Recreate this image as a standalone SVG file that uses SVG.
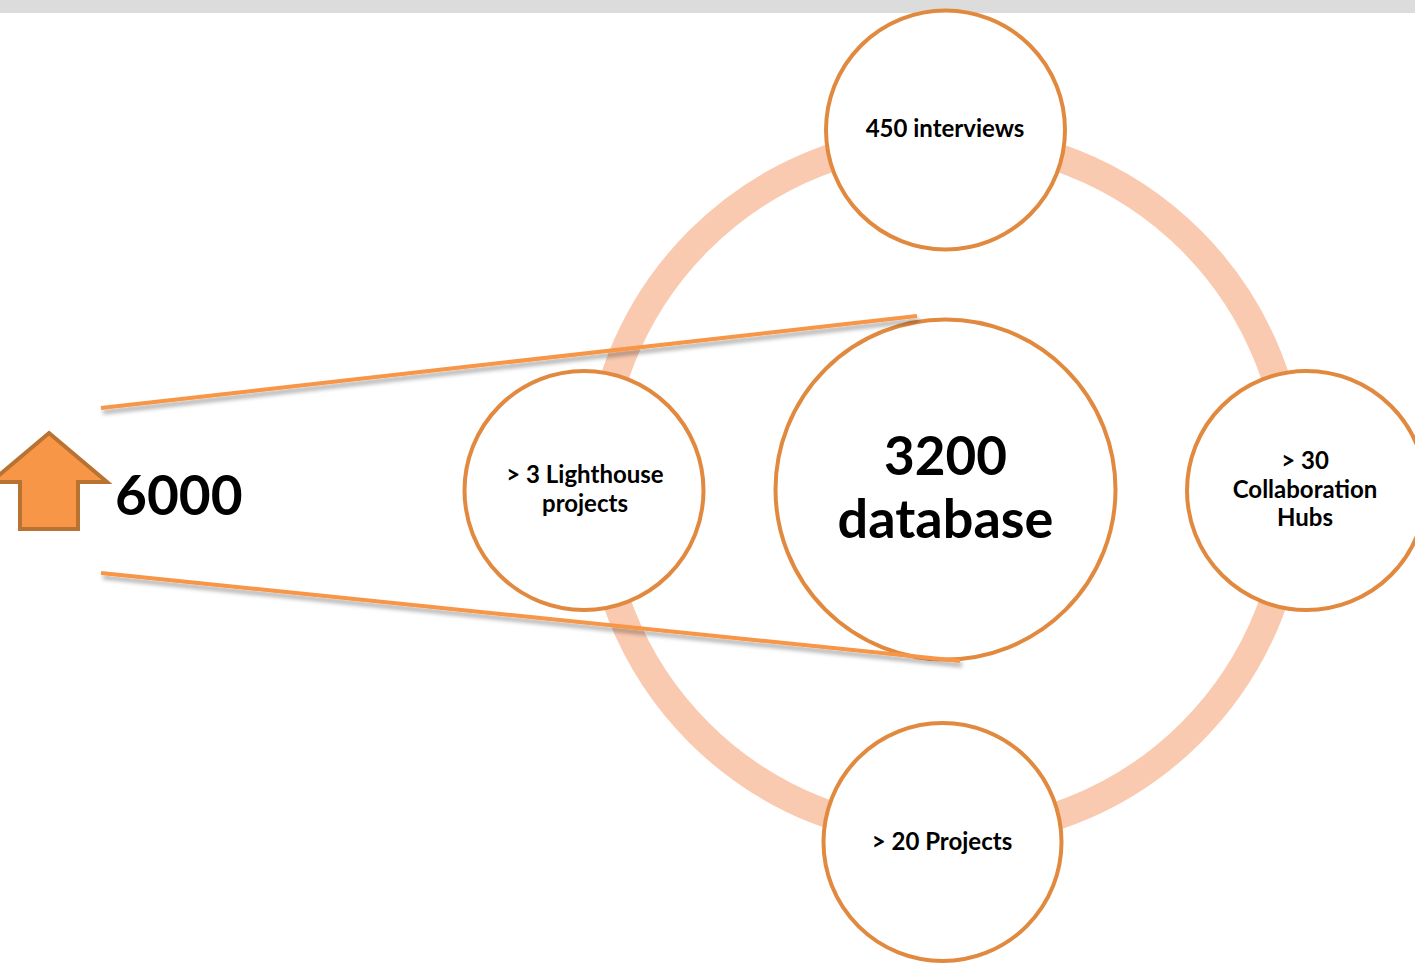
<svg xmlns="http://www.w3.org/2000/svg" width="1415" height="964" viewBox="0 0 1415 964">
  <defs>
    <filter id="shadow" x="-5%" y="-50%" width="110%" height="200%">
      <feDropShadow dx="2" dy="4" stdDeviation="2" flood-color="#000" flood-opacity="0.35"/>
    </filter>
    <style>
      .node { fill: #FFFFFF; stroke: #E18A3F; stroke-width: 4; }
      .lbl { font-family: Lato, "Open Sans", "Liberation Sans", sans-serif; font-weight: bold; fill: #000; text-anchor: middle; }
      .sm { font-size: 24px; }
      .big { font-size: 54px; }
      .conn { stroke: #F79646; stroke-width: 4; fill: none; filter: url(#shadow); }
    </style>
  </defs>
  <rect x="0" y="0" width="1415" height="13" fill="#DCDCDC"/>
  <g id="ring">
    <circle cx="945" cy="486.5" r="348" fill="none" stroke="#F9CAB0" stroke-width="28"/>
  </g>
  <g id="node-interviews">
    <circle class="node" cx="945.5" cy="130" r="119.5"/>
    <text class="lbl sm" x="945" y="137">450 interviews</text>
  </g>
  <g id="node-lighthouse">
    <circle class="node" cx="584" cy="490.5" r="119.5"/>
    <text class="lbl sm" x="585" y="483">&gt; 3 Lighthouse</text>
    <text class="lbl sm" x="585" y="511.5">projects</text>
  </g>
  <g id="node-hubs">
    <circle class="node" cx="1306.5" cy="490.5" r="119.5"/>
    <text class="lbl sm" x="1305" y="469">&gt; 30</text>
    <text class="lbl sm" x="1305" y="497.5">Collaboration</text>
    <text class="lbl sm" x="1305" y="526">Hubs</text>
  </g>
  <g id="node-projects">
    <circle class="node" cx="942.5" cy="842" r="119"/>
    <text class="lbl sm" x="942" y="849.5">&gt; 20 Projects</text>
  </g>
  <g id="node-database">
    <circle class="node" cx="945.5" cy="489.5" r="170" stroke-width="3.5"/>
    <text class="lbl big" x="945.5" y="475" font-size="53" style="font-size:53px">3200</text>
    <text class="lbl big" x="945.5" y="538">database</text>
  </g>
  <g id="node-6000">
    <polygon points="49,433 107,482 78,482 78,529 20,529 20,482 -9,482" fill="#F79646" stroke="#B87333" stroke-width="4" stroke-linejoin="miter"/>
    <text class="lbl" x="115" y="515" font-size="55" style="text-anchor:start">6000</text>
  </g>
  <g id="connectors">
    <line class="conn" x1="101" y1="408" x2="917" y2="316"/>
    <line class="conn" x1="101" y1="573" x2="960" y2="661"/>
  </g>
</svg>
